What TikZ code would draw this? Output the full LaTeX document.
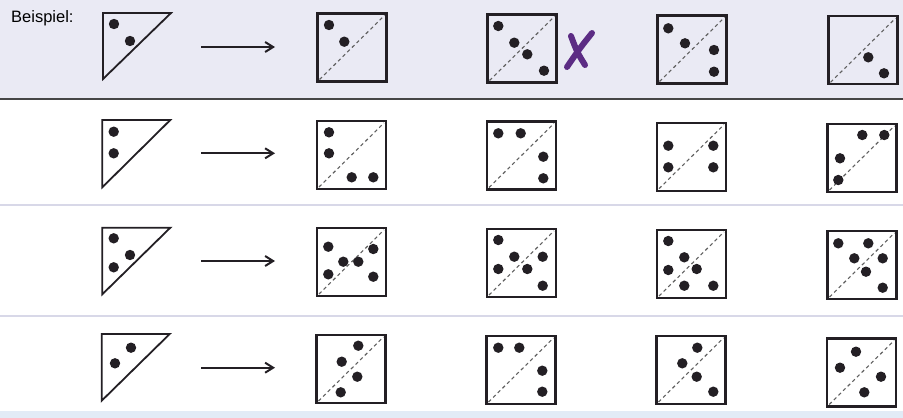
\documentclass[tikz,border=0pt]{standalone}
\usepackage{fontspec}
\setmainfont{Liberation Sans}
\usetikzlibrary{arrows.meta}
\definecolor{bandcol}{RGB}{234,234,244}
\definecolor{rulecol}{RGB}{216,216,232}
\definecolor{footcol}{RGB}{226,235,246}
\definecolor{markcol}{RGB}{92,44,132}
\definecolor{inkcol}{RGB}{35,31,36}

\begin{document}
\begin{tikzpicture}[x=1pt, y=-1pt,
  diebox/.style={draw=inkcol, line width=2.2pt, minimum width=69pt, minimum height=68pt, inner sep=0pt, outer sep=0pt},
  halfbox/.style={draw=inkcol, line width=1.8pt, line join=miter},
  pip/.style={fill=inkcol},
  diag/.style={draw=gray!75!black, line width=1.1pt, dash pattern=on 3.5pt off 3pt},
  turn/.style={-{Straight Barb[length=8pt,width=10pt]}, line width=2pt, draw=inkcol}]
  \useasboundingbox (0,0) rectangle (903,418);
  % Page background, shaded example band and row rules
  \fill[white] (0,0) rectangle (903,418);
  \fill[bandcol] (0,0) rectangle (903,98);
  \fill[footcol] (0,411) rectangle (903,418);
  \draw[gray!55!black, line width=2pt] (0,99) -- (903,99);
  \draw[rulecol, line width=2.5pt] (0,205) -- (903,205);
  \draw[rulecol, line width=2.5pt] (0,316) -- (903,316);
  % Label of the example row
  \node[anchor=base west, inner sep=0pt, font=\fontsize{16.5}{18}\selectfont] (lbl) at (11,22) {Beispiel:};
  % Half squares on the left (top left corner, bottom)
  \foreach \tx/\ty/\tb in {103/13/79, 102.3/120/187.3, 102.3/227.7/294.3, 101.7/334/400.7} {
    \draw[halfbox] (\tx,\ty) -- ++(68,0) -- (\tx,\tb) -- cycle;
  }
  % Pips on the half squares
  \foreach \px/\py in {114/24, 130/41, 113.7/131.7, 113.7/153.3, 113.7/238.3, 130/255, 113.7/267.3, 131/347.7, 115/363.3} {
    \fill[pip] (\px,\py) circle (5.2pt);
  }
  % Arrows between half square and answers
  \foreach \r/\ay in {0/47, 1/153.3, 2/261, 3/367.7} {
    \coordinate (from\r) at (201,\ay);
    \coordinate (to\r) at (275,\ay);
    \draw[turn] (from\r) -- (to\r);
  }
  % Answer squares with dashed fold line
  \foreach \n/\cx/\cy in {s00/352/47.5, s01/522/48.5, s02/692/49.5, s03/863/50.3,
                          s10/351.5/155, s11/521.5/155.5, s12/691.5/156.7, s13/862/158,
                          s20/351.5/262, s21/521.5/263, s22/691.5/264, s23/862/265,
                          s30/351/369, s31/521/370, s32/691/370, s33/861.7/372.5} {
    \node[diebox] (\n) at (\cx,\cy) {};
    \draw[diag] ([shift={(2pt,2pt)}]\n.south west) -- ([shift={(-2pt,-2pt)}]\n.north east);
  }
  % Pips on the answer squares, row by row
  \foreach \px/\py in {329/25, 344.3/41.7, 498.3/26, 514.3/42.7, 527.3/54.3, 544/70.7,
                       668.3/28.3, 685/43.3, 714/50, 714/71.7, 868.3/57.3, 884/73.3} {
    \fill[pip] (\px,\py) circle (5.2pt);
  }
  \foreach \px/\py in {329/132.3, 329/153.3, 351.7/177.3, 373.3/177.3, 498.3/133.3, 520.7/133.3, 543.3/156.7, 543.3/178.3,
                       668.3/145.7, 668.3/167.3, 713.3/145.7, 713.3/167.3, 862.3/135, 884.3/135, 840/158.3, 838.3/180} {
    \fill[pip] (\px,\py) circle (5.2pt);
  }
  \foreach \px/\py in {328.3/246.7, 343.3/261.7, 358.3/261.7, 373.3/249, 328.3/274.3, 373.3/276.7,
                       498.3/240, 514.3/256.7, 542.7/256.7, 498.3/269, 527.3/269, 542.7/285.7,
                       668.3/241, 684.3/257.3, 668.3/270, 696.7/269, 684.3/285.7, 713.3/285.7,
                       838.3/243.3, 868.3/243.3, 854.3/258.3, 882.7/258.3, 866/271.7, 882.7/287.7} {
    \fill[pip] (\px,\py) circle (5.2pt);
  }
  \foreach \px/\py in {358.3/345.7, 341.7/361.7, 357.3/376.7, 340.7/392.3, 498.3/347.7, 519.3/347.7, 542.3/370.7, 542.3/391.7,
                       697.3/347.7, 682.3/363.3, 696.7/376.7, 713.3/391.7, 856/351.7, 840/367.7, 881/376.7, 864.3/392.3} {
    \fill[pip] (\px,\py) circle (5.2pt);
  }
  % Hand drawn cross next to the wrong answer
  \draw[markcol, line width=6pt, line cap=round] (592,33) .. controls (580,48) .. (567,67);
  \draw[markcol, line width=6pt, line cap=round] (571,36) .. controls (577,52) .. (585,65);
\end{tikzpicture}
\end{document}
